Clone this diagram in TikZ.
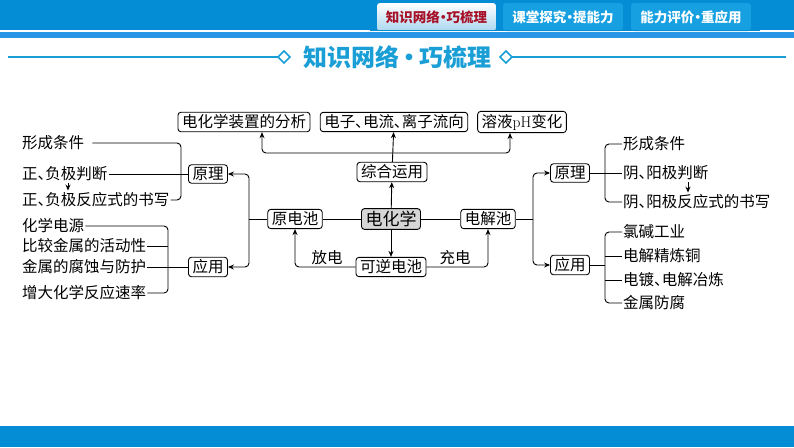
\documentclass[tikz,border=0pt]{standalone}
\usepackage{fontspec}
\newfontfamily\cjk[RawFeature=+palt]{Noto Sans CJK SC}
\usetikzlibrary{arrows.meta}

\definecolor{bandblue}{RGB}{4,140,212}
\definecolor{stripeblue}{RGB}{40,150,228}
\definecolor{tabblue}{RGB}{22,160,226}
\definecolor{tabred}{RGB}{168,18,40}
\definecolor{tablight}{RGB}{170,215,240}
\definecolor{titleblue}{RGB}{26,158,214}
\definecolor{hubgray}{RGB}{214,214,214}

\tikzset{
  box/.style={draw,rounded corners=3pt,line width=0.9pt,inner xsep=4pt,inner ysep=2.5pt,
    font=\cjk\fontsize{15.5}{16}\selectfont},
  item/.style={inner xsep=1pt,inner ysep=2pt,font=\cjk\fontsize{15.5}{16}\selectfont},
  link/.style={rounded corners=4pt,line width=0.9pt},
  arr/.style={link,-{Stealth[length=6pt,width=5pt]}},
  tabtext/.style={font=\cjk\bfseries\fontsize{13.5}{14}\selectfont}
}

\begin{document}
\begin{tikzpicture}[x=1pt,y=-1pt]
  \useasboundingbox (0,0) rectangle (794,447);

  % header and footer bands
  \fill[bandblue] (0,0) rectangle (794,30);
  \fill[stripeblue] (0,32) rectangle (794,38);
  \fill[bandblue] (0,426) rectangle (794,447);

  \shade[top color=white,bottom color=tablight,rounded corners=3pt]
    (377,31) -- (377,3) -- (496,3) -- (496,31) -- cycle;
  \fill[tabblue,rounded corners=3pt] (503,31) -- (503,3) -- (623,3) -- (623,31) -- cycle;
  \fill[tabblue,rounded corners=3pt] (631,31) -- (631,3) -- (751,3) -- (751,31) -- cycle;
  \fill[bandblue] (370,30) rectangle (760,31);
  \node[tabtext,text=tabred] (tab1) at (436.5,17) {知识网络·巧梳理};
  \node[tabtext,text=white]  (tab2) at (563,17)   {课堂探究·提能力};
  \node[tabtext,text=white]  (tab3) at (691,17)   {能力评价·重应用};

  % title
  \node[font=\cjk\bfseries\fontsize{24}{25}\selectfont,text=titleblue] (title) at (397,57) {知识网络\,·\,巧梳理};
  \begin{scope}[titleblue,line width=1.6pt]
    \draw[line width=1.2pt] (8,57) -- (278,57);
    \draw (284,51) -- (290,57) -- (284,63) -- (278,57) -- cycle;
    \draw (506,51) -- (512,57) -- (506,63) -- (500,57) -- cycle;
    \draw[line width=1.2pt] (512,57) -- (786,57);
  \end{scope}

  % centre
  \node[box,fill=hubgray,font=\cjk\fontsize{17}{18}\selectfont] (hub) at (391,219) {电化学};
  \node[box] (yuan)   at (295,219) {原电池};
  \node[box] (jie)    at (488,219) {电解池};
  \node[box] (zonghe) at (392,172) {综合运用};
  \node[box] (kenie)  at (391,267) {可逆电池};
  \node[box] (fenxi)  at (244,122) {电化学装置的分析};
  \node[box] (liux)   at (394,122) {电子、电流、离子流向};
  \node[box] (ph)     at (522,122) {溶液{\normalfont pH}变化};
  \node[item] (fang)  at (327,258) {放电};
  \node[item] (chong) at (455,258) {充电};

  \node[box] (Lyl) at (208,174) {原理};
  \node[box] (Lyy) at (208,267) {应用};
  \node[box] (Ryl) at (570,173) {原理};
  \node[box] (Ryy) at (570,265) {应用};

  % left items
  \begin{scope}[every node/.style={item,anchor=west}]
    \node (t1) at (21,143) {形成条件};
    \node (t2) at (21,174) {正、负极判断};
    \node (t3) at (21,200) {正、负极反应式的书写};
    \node (t4) at (21,226) {化学电源};
    \node (t5) at (21,246) {比较金属的活动性};
    \node (t6) at (21,267) {金属的腐蚀与防护};
    \node (t7) at (21,293) {增大化学反应速率};
  \end{scope}

  % right items
  \begin{scope}[every node/.style={item,anchor=west}]
    \node (r1) at (622,144) {形成条件};
    \node (r2) at (622,173) {阴、阳极判断};
    \node (r3) at (622,202) {阴、阳极反应式的书写};
    \node (r4) at (622,232) {氯碱工业};
    \node (r5) at (622,256) {电解精炼铜};
    \node (r6) at (622,280) {电镀、电解冶炼};
    \node (r7) at (622,303) {金属防腐};
  \end{scope}

  \coordinate (lb1) at (181,0);
  \coordinate (lb2) at (168,0);
  \coordinate (lx)  at (249,0);
  \coordinate (rx)  at (533,0);
  \coordinate (rb)  at (605,0);
  \coordinate (hy)  at (0,153);
  \coordinate (jl)  at (68,0);
  \coordinate (jr)  at (688,0);

  % centre links
  \draw[link] (yuan) -- (hub) -- (jie);
  \draw[arr] (hub) -- (zonghe);
  \draw[arr] (hub) -- (kenie);
  \draw[arr] (zonghe) -- (liux);
  \draw[arr] (zonghe.north |- hy) -| ([xshift=18pt]fenxi.south);
  \draw[arr] (zonghe.north |- hy) -| ([xshift=-12pt]ph.south);
  \draw[arr] (kenie.west) -| (yuan.south);
  \draw[arr] (kenie.east) -| (jie.south);

  % left side
  \draw[link] (yuan.west) -- (lx |- yuan.west);
  \draw[arr] (lx |- yuan.west) |- (Lyl.east);
  \draw[arr] (lx |- yuan.west) |- (Lyy.east);
  \draw[link] ([xshift=7pt]t1.east) -| (lb1 |- t3.east) -- (t3.east);
  \draw[link] (t2.east) -- (Lyl.west);
  \draw[arr] (jl |- t2.south) -- (jl |- t3.north);
  \draw[link] (t4.east) -| (lb2 |- t7.east) -- (t7.east);
  \draw[link] (t5.east) -- (lb2 |- t5.east);
  \draw[link] (t6.east) -- (Lyy.west);

  % right side
  \draw[link] (jie.east) -- (rx |- jie.east);
  \draw[arr] (rx |- jie.east) |- (Ryl.west);
  \draw[arr] (rx |- jie.east) |- (Ryy.west);
  \draw[link] (r1.west) -| (rb |- r3.west) -- (r3.west);
  \draw[link] (Ryl.east) -- (r2.west);
  \draw[arr] (jr |- r2.south) -- (jr |- r3.north);
  \draw[link] (r4.west) -| (rb |- r7.west) -- (r7.west);
  \draw[link] (Ryy.east) -- (rb |- Ryy.east);
  \draw[link] (r5.west) -- (rb |- r5.west);
  \draw[link] (r6.west) -- (rb |- r6.west);

\end{tikzpicture}
\end{document}
